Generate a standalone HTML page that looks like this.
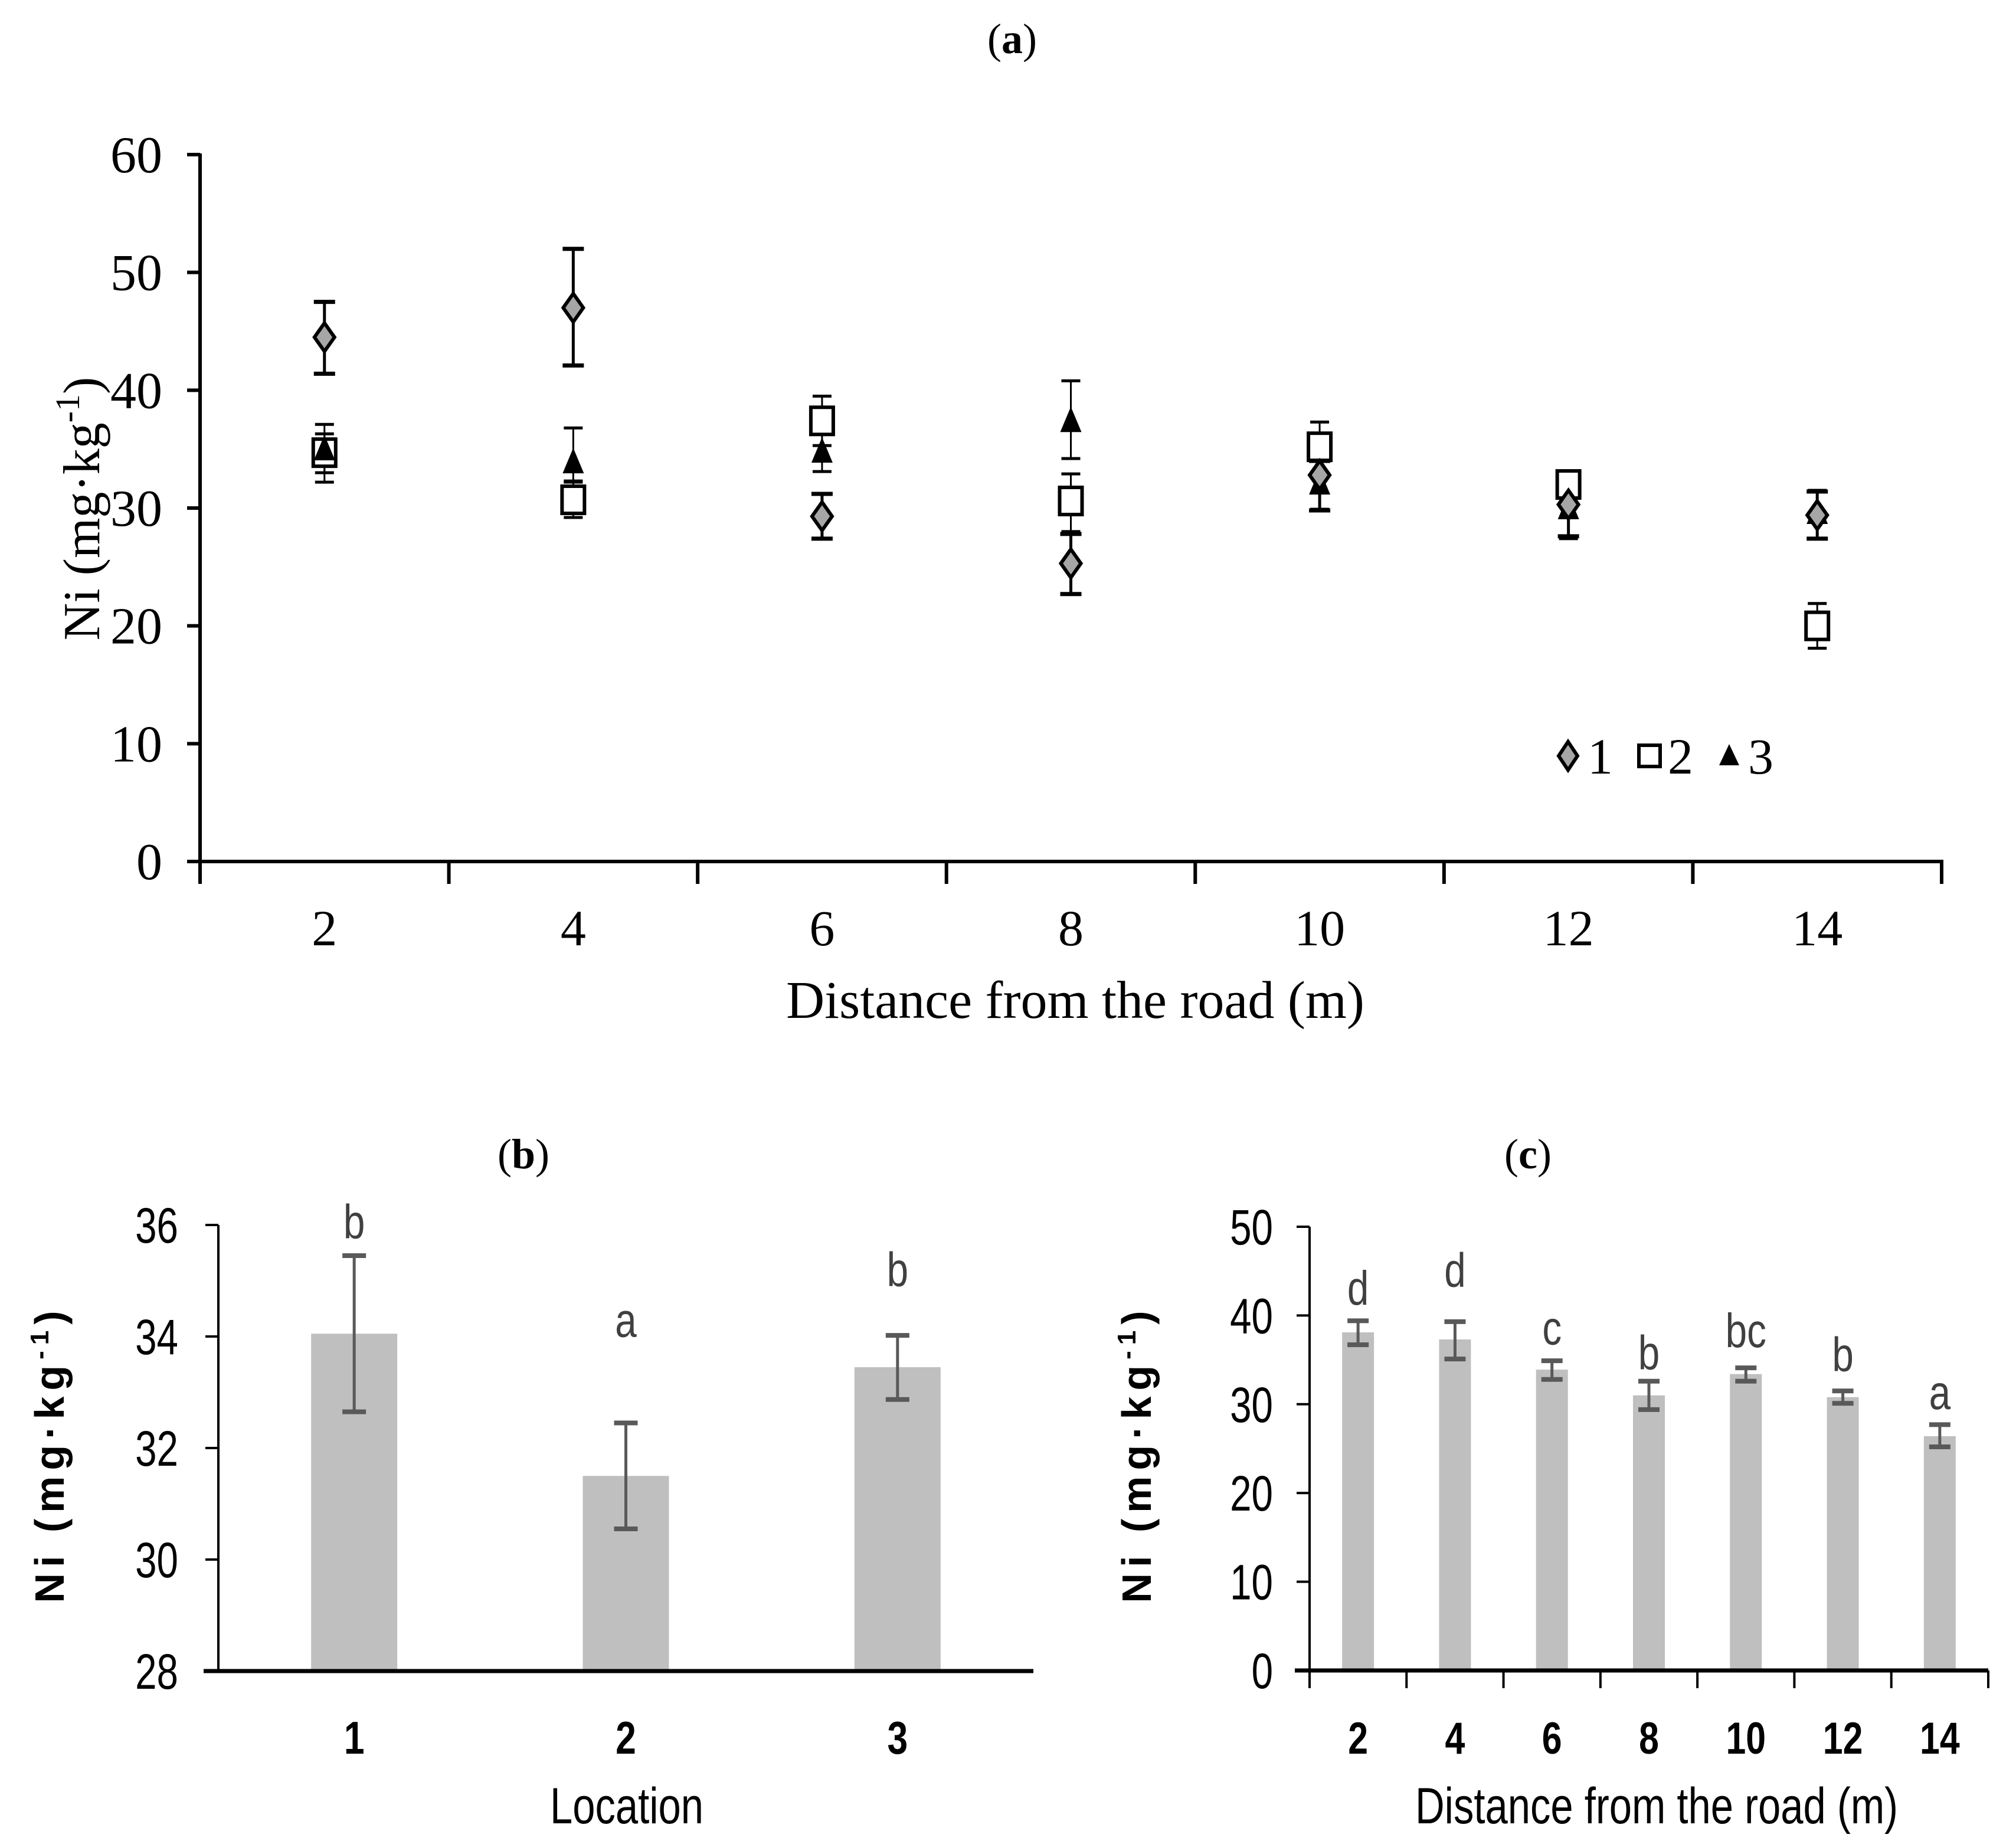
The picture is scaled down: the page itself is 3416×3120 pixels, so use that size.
<!DOCTYPE html>
<html><head><meta charset="utf-8"><style>
body{margin:0;background:#fff}
svg{display:block}
.ser{font-family:"Liberation Serif",serif}
.san{font-family:"Liberation Sans",sans-serif}
</style></head><body>
<svg id="svg" width="3416" height="3120" viewBox="0 0 3416 3120" xmlns="http://www.w3.org/2000/svg">
<g id="ga"></g>
<g id="gb"></g>
<g id="gc"></g>
</svg>
<script>
// Chart (a) data
const aCats = [2,4,6,8,10,12,14];
const aTicks = [0,10,20,30,40,50,60];
const s1Val = [44.5,47.0,29.3,25.3,32.8,30.3,29.4];
const s1Lo = [41.4,42.1,27.4,22.7,29.8,27.6,27.4];
const s1Hi = [47.5,52.0,31.2,27.8,34.0,32.8,31.4];
const s2Val = [34.7,30.7,37.4,30.6,35.2,32.0,20.0];
const s2Lo = [32.2,29.2,35.3,28.0,33.0,31.0,18.1];
const s2Hi = [36.3,32.3,39.5,32.9,37.3,33.0,21.9];
const s3Val = [35.0,33.9,34.8,37.4,32.1,30.0,29.6];
const s3Lo = [33.0,32.2,33.1,34.2,29.9,27.4,27.4];
const s3Hi = [37.1,36.8,36.3,40.8,34.0,33.0,31.5];
// Chart (b) data
const bCats = ["1","2","3"];
const bTicks = [28,30,32,34,36];
const bVal = [34.05,31.5,33.45];
const bLo = [32.65,30.55,32.87];
const bHi = [35.45,32.45,34.02];
const bLetters = ["b","a","b"];
const bLetterVal = [36.06,34.29,35.2];
// Chart (c) data
const cCats = ["2","4","6","8","10","12","14"];
const cTicks = [0,10,20,30,40,50];
const cVal = [38.1,37.3,33.9,31.0,33.4,30.8,26.4];
const cLo = [36.7,35.1,32.8,29.4,32.6,30.1,25.2];
const cHi = [39.4,39.3,34.9,32.6,34.1,31.5,27.7];
const cLetters = ["d","d","c","b","bc","b","a"];
const cLetterVal = [43.1,45.1,38.6,35.8,38.3,35.6,31.3];

const NS="http://www.w3.org/2000/svg";
function mk(parent,tag,attrs,text){const e=document.createElementNS(NS,tag);for(const k in attrs)e.setAttribute(k,attrs[k]);if(text!==undefined)e.textContent=text;parent.appendChild(e);return e;}
// narrow (condensed) text via horizontal scale
function nt(parent,x,y,anchor,size,sx,extra,text){
 const a={transform:`translate(${x},${y}) scale(${sx},1)`,'text-anchor':anchor,'font-size':size,class:'san'};
 for(const k in extra)a[k]=extra[k];
 return mk(parent,'text',a,text);
}

// ---------- Chart A ----------
(function(){
const g=document.getElementById('ga');
const x0=339,x1=3290,y0=1460,yTop=262;
const ya=v=>y0-(v-0)/(60-0)*(y0-yTop);
const bw=(x1-x0)/aCats.length;
const xa=i=>x0+bw*(i+0.5);
let t=mk(g,'text',{x:1715,y:90,'text-anchor':'middle','font-size':72,class:'ser'});

t.innerHTML='(<tspan font-weight="bold">a</tspan>)';
let ax=mk(g,'line',{x1:x0,y1:yTop-2,x2:x0,y2:y0+3,stroke:'#000','stroke-width':6});

let bx=mk(g,'line',{x1:x0-3,y1:y0,x2:x1+3,y2:y0,stroke:'#000','stroke-width':6});

aTicks.forEach(v=>{
 let l=mk(g,'line',{x1:x0-22,y1:ya(v),x2:x0,y2:ya(v),stroke:'#000','stroke-width':6});
 
 let tx=mk(g,'text',{x:x0-64,y:ya(v)+30,'text-anchor':'end','font-size':88,class:'ser'},String(v));
 
});
for(let i=0;i<=aCats.length;i++){
 let l=mk(g,'line',{x1:x0+bw*i,y1:y0,x2:x0+bw*i,y2:y0+38,stroke:'#000','stroke-width':6});
 
}
aCats.forEach((c,i)=>{
 let tx=mk(g,'text',{x:xa(i),y:1602,'text-anchor':'middle','font-size':86,class:'ser'},String(c));
 
});
let xt=mk(g,'text',{x:1822,y:1725,'text-anchor':'middle','font-size':90,class:'ser'},'Distance from the road (m)');

let yt=mk(g,'text',{transform:'translate(168,862) rotate(-90)','text-anchor':'middle','font-size':88,class:'ser'});

yt.innerHTML='Ni (mg·kg<tspan font-size="58" dy="-34">-1</tspan><tspan dy="34">)</tspan>';
function err(i,lo,hi,w,cw,name){
 const x=xa(i);
 let gg=mk(g,'g',{stroke:'#000'});
 
 mk(gg,'line',{x1:x,y1:ya(lo),x2:x,y2:ya(hi),'stroke-width':w});
 mk(gg,'line',{x1:x-cw,y1:ya(lo),x2:x+cw,y2:ya(lo),'stroke-width':w+2});
 mk(gg,'line',{x1:x-cw,y1:ya(hi),x2:x+cw,y2:ya(hi),'stroke-width':w+2});
}
aCats.forEach((c,i)=>{
 err(i,s2Lo[i],s2Hi[i],3,16,'error-bar-series-2');
 err(i,s3Lo[i],s3Hi[i],3,16,'error-bar-series-3');
 err(i,s1Lo[i],s1Hi[i],5,18,'error-bar-series-1');
});
function diamond(x,y,name){let p=mk(g,'polygon',{points:`${x},${y-24} ${x+17},${y} ${x},${y+24} ${x-17},${y}`,fill:'#a6a6a6',stroke:'#000','stroke-width':6});}
function square(x,y,name){let p=mk(g,'rect',{x:x-19,y:y-23,width:38,height:46,fill:'#fff',stroke:'#000','stroke-width':6});}
function tri(x,y,name){let p=mk(g,'polygon',{points:`${x},${y-24} ${x+18},${y+19} ${x-18},${y+19}`,fill:'#000'});}
aCats.forEach((c,i)=>{
 square(xa(i),ya(s2Val[i]),'point-series-2');
 tri(xa(i),ya(s3Val[i]),'point-series-3');
 diamond(xa(i),ya(s1Val[i]),'point-series-1');
});
let lg=mk(g,'g',{});

const ly=1281;
let le1=mk(lg,'g',{});
mk(le1,'polygon',{points:`2657,${ly-24} 2673,${ly} 2657,${ly+24} 2641,${ly}`,fill:'#a6a6a6',stroke:'#000','stroke-width':6});
mk(le1,'text',{x:2690,y:ly+30,'font-size':86,class:'ser'},'1');
let le2=mk(lg,'g',{});
mk(le2,'rect',{x:2777,y:ly-18,width:36,height:36,fill:'#fff',stroke:'#000','stroke-width':6});
mk(le2,'text',{x:2826,y:ly+30,'font-size':86,class:'ser'},'2');
let le3=mk(lg,'g',{});
mk(le3,'polygon',{points:`2930,${ly-20} 2947,${ly+16} 2913,${ly+16}`,fill:'#000'});
mk(le3,'text',{x:2962,y:ly+30,'font-size':86,class:'ser'},'3');
})();

// ---------- Chart B ----------
(function(){
const g=document.getElementById('gb');
const x0=370,x1=1751,y0=2832,yTop=2076;
const yb=v=>y0-(v-28)/(36-28)*(y0-yTop);
const bw=(x1-x0)/bCats.length;
const xb=i=>x0+bw*(i+0.5);
let t=mk(g,'text',{x:887,y:1980,'text-anchor':'middle','font-size':72,class:'ser'});

t.innerHTML='(<tspan font-weight="bold">b</tspan>)';
bCats.forEach((c,i)=>{
 let r=mk(g,'rect',{x:xb(i)-73,y:yb(bVal[i]),width:146,height:y0-yb(bVal[i]),fill:'#bfbfbf'});
 
 let e=mk(g,'g',{stroke:'#595959','stroke-width':5});
 
 mk(e,'line',{x1:xb(i),y1:yb(bLo[i]),x2:xb(i),y2:yb(bHi[i])});
 mk(e,'line',{x1:xb(i)-20,y1:yb(bLo[i]),x2:xb(i)+20,y2:yb(bLo[i]),'stroke-width':8});
 mk(e,'line',{x1:xb(i)-20,y1:yb(bHi[i]),x2:xb(i)+20,y2:yb(bHi[i]),'stroke-width':8});
 let lt=nt(g,xb(i),yb(bLetterVal[i])+28,'middle',82,0.8,{fill:'#404040'},bLetters[i]);
 
 let tx=nt(g,xb(i),2972,'middle',78,0.8,{'font-weight':'bold'},c);
 
});
let ax=mk(g,'line',{x1:x0,y1:yTop,x2:x0,y2:y0,stroke:'#000','stroke-width':4});

let bx=mk(g,'line',{x1:x0-25,y1:y0,x2:x1,y2:y0,stroke:'#000','stroke-width':7});

bTicks.forEach(v=>{
 let l=mk(g,'line',{x1:x0-22,y1:yb(v),x2:x0,y2:yb(v),stroke:'#000','stroke-width':4});
 
 let tx=nt(g,x0-68,yb(v)+30,'end',84,0.78,{},String(v));
 
});
let xt=nt(g,1062,3090,'middle',86,0.8,{},'Location');

let yt=mk(g,'text',{transform:'translate(108,2464) rotate(-90)','text-anchor':'middle','font-size':70,'font-weight':'bold','letter-spacing':10,class:'san'});

yt.innerHTML='Ni (mg·kg<tspan font-size="44" dy="-26">-1</tspan><tspan dy="26">)</tspan>';
})();

// ---------- Chart C ----------
(function(){
const g=document.getElementById('gc');
const x0=2219,x1=3369,y0=2831,yTop=2079;
const yc=v=>y0-(v-0)/(50-0)*(y0-yTop);
const bw=(x1-x0)/cCats.length;
const xc=i=>x0+bw*(i+0.5);
let t=mk(g,'text',{x:2589,y:1980,'text-anchor':'middle','font-size':72,class:'ser'});

t.innerHTML='(<tspan font-weight="bold">c</tspan>)';
cCats.forEach((c,i)=>{
 let r=mk(g,'rect',{x:xc(i)-27,y:yc(cVal[i]),width:54,height:y0-yc(cVal[i]),fill:'#bfbfbf'});
 
 let e=mk(g,'g',{stroke:'#595959','stroke-width':5});
 
 mk(e,'line',{x1:xc(i),y1:yc(cLo[i]),x2:xc(i),y2:yc(cHi[i])});
 mk(e,'line',{x1:xc(i)-18,y1:yc(cLo[i]),x2:xc(i)+18,y2:yc(cLo[i]),'stroke-width':8});
 mk(e,'line',{x1:xc(i)-18,y1:yc(cHi[i]),x2:xc(i)+18,y2:yc(cHi[i]),'stroke-width':8});
 let lt=nt(g,xc(i),yc(cLetterVal[i])+28,'middle',82,0.8,{fill:'#404040'},cLetters[i]);
 
 let tx=nt(g,xc(i),2972,'middle',76,0.8,{'font-weight':'bold'},c);
 
});
let ax=mk(g,'line',{x1:x0,y1:yTop,x2:x0,y2:y0,stroke:'#000','stroke-width':4});

let bx=mk(g,'line',{x1:x0-25,y1:y0,x2:x1,y2:y0,stroke:'#000','stroke-width':7});

for(let i=0;i<=cCats.length;i++){
 let l=mk(g,'line',{x1:x0+bw*i,y1:y0,x2:x0+bw*i,y2:y0+30,stroke:'#000','stroke-width':4});
 
}
cTicks.forEach(v=>{
 let l=mk(g,'line',{x1:x0-22,y1:yc(v),x2:x0,y2:yc(v),stroke:'#000','stroke-width':4});
 
 let tx=nt(g,x0-62,yc(v)+30,'end',84,0.78,{},String(v));
 
});
let xt=nt(g,2807,3090,'middle',86,0.8,{},'Distance from the road (m)');

let yt=mk(g,'text',{transform:'translate(1950,2464) rotate(-90)','text-anchor':'middle','font-size':70,'font-weight':'bold','letter-spacing':10,class:'san'});

yt.innerHTML='Ni (mg·kg<tspan font-size="44" dy="-26">-1</tspan><tspan dy="26">)</tspan>';
})();
</script>
</body></html>
